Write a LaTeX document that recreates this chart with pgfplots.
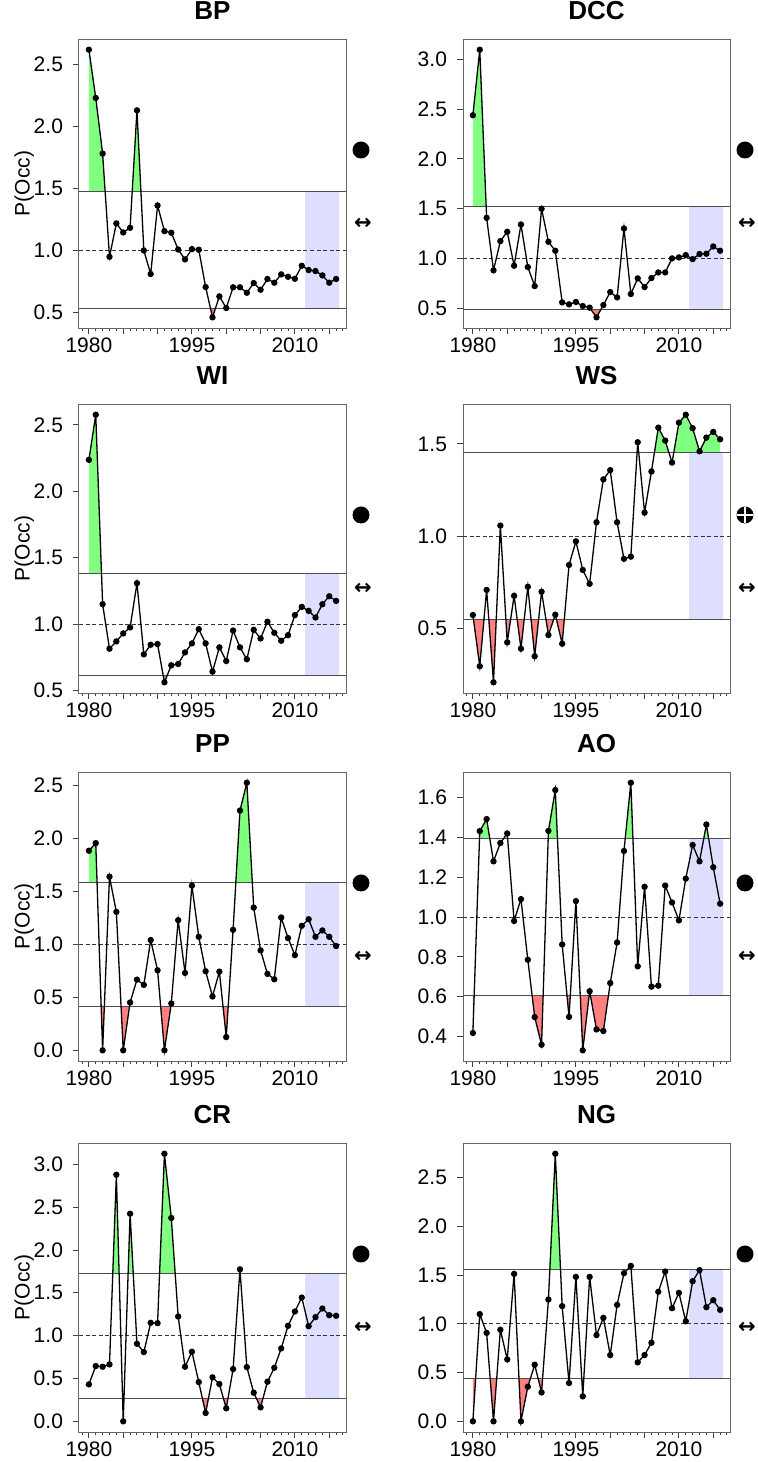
\documentclass[border=0pt]{standalone}
\usepackage{pgfplots}
\pgfplotsset{compat=1.18}
\usepgfplotslibrary{fillbetween}
\usepackage{pgfplotstable}
\usepackage{fontspec}
\setmainfont{Liberation Sans}
\newfontfamily\dejavu{DejaVu Sans}

\definecolor{gfill}{RGB}{128,255,128}
\definecolor{rfill}{RGB}{255,128,128}
\definecolor{bfill}{RGB}{222,222,255}

% P(Occ) per year, 1980-2016
\pgfplotstableread[row sep=\\]{
year val\\
1980 2.616\\ 1981 2.227\\ 1982 1.778\\ 1983 0.946\\ 1984 1.215\\ 1985 1.142\\ 1986 1.180\\ 1987 2.127\\
1988 0.997\\ 1989 0.807\\ 1990 1.360\\ 1991 1.153\\ 1992 1.140\\ 1993 1.005\\ 1994 0.925\\ 1995 1.008\\
1996 1.003\\ 1997 0.702\\ 1998 0.458\\ 1999 0.627\\ 2000 0.533\\ 2001 0.700\\ 2002 0.700\\ 2003 0.656\\
2004 0.734\\ 2005 0.680\\ 2006 0.767\\ 2007 0.737\\ 2008 0.804\\ 2009 0.785\\ 2010 0.769\\ 2011 0.874\\
2012 0.839\\ 2013 0.831\\ 2014 0.796\\ 2015 0.737\\ 2016 0.767\\
}\tBP
\pgfplotstableread[row sep=\\]{
year val\\
1980 2.439\\ 1981 3.098\\ 1982 1.408\\ 1983 0.880\\ 1984 1.174\\ 1985 1.268\\ 1986 0.926\\ 1987 1.341\\
1988 0.913\\ 1989 0.722\\ 1990 1.499\\ 1991 1.167\\ 1992 1.077\\ 1993 0.558\\ 1994 0.538\\ 1995 0.562\\
1996 0.521\\ 1997 0.505\\ 1998 0.408\\ 1999 0.531\\ 2000 0.662\\ 2001 0.608\\ 2002 1.301\\ 2003 0.642\\
2004 0.799\\ 2005 0.712\\ 2006 0.803\\ 2007 0.859\\ 2008 0.859\\ 2009 1.000\\ 2010 1.010\\ 2011 1.033\\
2012 0.993\\ 2013 1.044\\ 2014 1.047\\ 2015 1.120\\ 2016 1.077\\
}\tDCC
\pgfplotstableread[row sep=\\]{
year val\\
1980 2.237\\ 1981 2.577\\ 1982 1.150\\ 1983 0.815\\ 1984 0.870\\ 1985 0.930\\ 1986 0.975\\ 1987 1.308\\
1988 0.772\\ 1989 0.845\\ 1990 0.850\\ 1991 0.562\\ 1992 0.690\\ 1993 0.700\\ 1994 0.787\\ 1995 0.855\\
1996 0.962\\ 1997 0.855\\ 1998 0.642\\ 1999 0.825\\ 2000 0.722\\ 2001 0.952\\ 2002 0.825\\ 2003 0.735\\
2004 0.957\\ 2005 0.892\\ 2006 1.018\\ 2007 0.935\\ 2008 0.875\\ 2009 0.917\\ 2010 1.068\\ 2011 1.130\\
2012 1.100\\ 2013 1.050\\ 2014 1.150\\ 2015 1.210\\ 2016 1.175\\
}\tWI
\pgfplotstableread[row sep=\\]{
year val\\
1980 0.574\\ 1981 0.297\\ 1982 0.710\\ 1983 0.210\\ 1984 1.058\\ 1985 0.426\\ 1986 0.678\\ 1987 0.392\\
1988 0.727\\ 1989 0.351\\ 1990 0.700\\ 1991 0.466\\ 1992 0.576\\ 1993 0.419\\ 1994 0.845\\ 1995 0.973\\
1996 0.818\\ 1997 0.743\\ 1998 1.076\\ 1999 1.308\\ 2000 1.358\\ 2001 1.076\\ 2002 0.878\\ 2003 0.890\\
2004 1.509\\ 2005 1.128\\ 2006 1.351\\ 2007 1.588\\ 2008 1.518\\ 2009 1.399\\ 2010 1.615\\ 2011 1.658\\
2012 1.585\\ 2013 1.460\\ 2014 1.534\\ 2015 1.565\\ 2016 1.525\\
}\tWS
\pgfplotstableread[row sep=\\]{
year val\\
1980 1.883\\ 1981 1.955\\ 1982 0.000\\ 1983 1.638\\ 1984 1.306\\ 1985 0.000\\ 1986 0.451\\ 1987 0.667\\
1988 0.617\\ 1989 1.040\\ 1990 0.755\\ 1991 0.000\\ 1992 0.442\\ 1993 1.228\\ 1994 0.730\\ 1995 1.554\\
1996 1.071\\ 1997 0.746\\ 1998 0.508\\ 1999 0.742\\ 2000 0.125\\ 2001 1.137\\ 2002 2.262\\ 2003 2.525\\
2004 1.347\\ 2005 0.943\\ 2006 0.721\\ 2007 0.670\\ 2008 1.253\\ 2009 1.059\\ 2010 0.898\\ 2011 1.175\\
2012 1.237\\ 2013 1.071\\ 2014 1.131\\ 2015 1.071\\ 2016 0.984\\
}\tPP
\pgfplotstableread[row sep=\\]{
year val\\
1980 0.417\\ 1981 1.432\\ 1982 1.492\\ 1983 1.280\\ 1984 1.372\\ 1985 1.420\\ 1986 0.980\\ 1987 1.090\\
1988 0.785\\ 1989 0.497\\ 1990 0.358\\ 1991 1.433\\ 1992 1.638\\ 1993 0.862\\ 1994 0.498\\ 1995 1.080\\
1996 0.330\\ 1997 0.627\\ 1998 0.435\\ 1999 0.427\\ 2000 0.668\\ 2001 0.872\\ 2002 1.332\\ 2003 1.675\\
2004 0.752\\ 2005 1.152\\ 2006 0.650\\ 2007 0.655\\ 2008 1.158\\ 2009 1.073\\ 2010 0.983\\ 2011 1.193\\
2012 1.362\\ 2013 1.280\\ 2014 1.465\\ 2015 1.250\\ 2016 1.067\\
}\tAO
\pgfplotstableread[row sep=\\]{
year val\\
1980 0.431\\ 1981 0.645\\ 1982 0.637\\ 1983 0.664\\ 1984 2.879\\ 1985 0.000\\ 1986 2.424\\ 1987 0.905\\
1988 0.808\\ 1989 1.150\\ 1990 1.146\\ 1991 3.124\\ 1992 2.374\\ 1993 1.224\\ 1994 0.637\\ 1995 0.812\\
1996 0.458\\ 1997 0.097\\ 1998 0.513\\ 1999 0.435\\ 2000 0.152\\ 2001 0.610\\ 2002 1.775\\ 2003 0.633\\
2004 0.334\\ 2005 0.163\\ 2006 0.462\\ 2007 0.625\\ 2008 0.851\\ 2009 1.115\\ 2010 1.282\\ 2011 1.445\\
2012 1.111\\ 2013 1.216\\ 2014 1.317\\ 2015 1.239\\ 2016 1.232\\
}\tCR
\pgfplotstableread[row sep=\\]{
year val\\
1980 0.000\\ 1981 1.100\\ 1982 0.908\\ 1983 0.000\\ 1984 0.939\\ 1985 0.635\\ 1986 1.513\\ 1987 0.000\\
1988 0.355\\ 1989 0.581\\ 1990 0.297\\ 1991 1.250\\ 1992 2.746\\ 1993 1.182\\ 1994 0.393\\ 1995 1.482\\
1996 0.256\\ 1997 1.482\\ 1998 0.885\\ 1999 1.062\\ 2000 0.680\\ 2001 1.195\\ 2002 1.520\\ 2003 1.595\\
2004 0.605\\ 2005 0.680\\ 2006 0.806\\ 2007 1.329\\ 2008 1.537\\ 2009 1.161\\ 2010 1.318\\ 2011 1.027\\
2012 1.438\\ 2013 1.551\\ 2014 1.171\\ 2015 1.243\\ 2016 1.144\\
}\tNG

\pgfplotsset{
  panel/.style={
    scale only axis, width=133.5pt, height=144.5pt, anchor=north west,
    xmin=1978.56, xmax=2017.44, enlargelimits=false,
    clip=false,
    axis line style={black!60, line width=0.5pt},
    every tick/.style={black!75, line width=0.5pt},
    tick align=outside, xtick pos=left, ytick pos=left,
    major tick length=3pt, minor tick length=1.6pt,
    xtick={1980,1985,...,2015}, xticklabels={1980,,,1995,,,2010,},
    minor xtick={1979,...,2017},
    scaled ticks=false,
    /pgf/number format/assume math mode=true,
    yticklabel={\pgfmathprintnumber[fixed,fixed zerofill,precision=1]{\tick}},
    tick label style={font=\fontsize{10.5}{12}\selectfont},
    yticklabel style={xshift=-1.5pt},
    xticklabel style={yshift=1.5pt},
    title style={font=\fontsize{13}{15}\selectfont\bfseries, at={(0.5,1)}, anchor=base, yshift=4pt},
    ylabel style={font=\fontsize{10.5}{12}\selectfont, at={(axis description cs:-0.205,0.5)}, anchor=center},
  },
  % clipped overlay used only for the green / red areas
  ov/.style={scale only axis, width=133.5pt, xmin=1978.56, xmax=2017.44,
    enlargelimits=false, hide axis, clip=true},
  ser/.style={black, line width=0.65pt, mark=*, mark size=1.25pt, mark options={solid}},
  thr/.style={black!70, line width=0.5pt},
  dl/.style={black!80, line width=0.5pt, dash pattern=on 2pt off 1.3pt},
}

\newcommand\dotsym{\node[circle, fill=black, inner sep=0pt, minimum size=8.5pt, xshift=7.5pt] at (rel axis cs:1,0.616) {};}
\newcommand\plussym{\node[circle, fill=black, inner sep=0pt, minimum size=8.5pt, xshift=7.5pt,
  path picture={\draw[white, line width=1pt] (path picture bounding box.north) -- (path picture bounding box.south)
  (path picture bounding box.west) -- (path picture bounding box.east);}] at (rel axis cs:1,0.616) {};}
\newcommand\arrsym{\node[xshift=8.5pt, inner sep=0pt, font=\dejavu\bfseries\fontsize{10.5}{12}\selectfont] at (rel axis cs:1,0.362) {↔};}
\let\cursym\dotsym

% #1 x (pt), #2 top y (pt), #3 name, #4 upper, #5 lower, #6 axis options,
% #7 table, #8 ymin, #9 ymax
\newcommand\panel[9]{%
\pgfmathsetmacro\hup{144.5*(#9-#4)/(#9-#8)}%
\pgfmathsetmacro\hlo{144.5*(#5-#8)/(#9-#8)}%
\pgfmathsetmacro\ybot{#2-144.5}%
% area above the upper line
\begin{axis}[ov, anchor=north west, at={(#1pt,#2pt)}, height=\hup pt, ymin=#4, ymax=#9]
  \addplot[draw=none, name path=ga#3] table {#7};
  \addplot[draw=none, name path=gb#3] coordinates {(1980,-20) (2016,-20)};
  \addplot[fill=gfill, draw=none] fill between[of=ga#3 and gb#3];
\end{axis}
% area below the lower line
\begin{axis}[ov, anchor=south west, at={(#1pt,\ybot pt)}, height=\hlo pt, ymin=#8, ymax=#5]
  \addplot[draw=none, name path=ra#3] table {#7};
  \addplot[draw=none, name path=rb#3] coordinates {(1980,20) (2016,20)};
  \addplot[fill=rfill, draw=none] fill between[of=ra#3 and rb#3];
\end{axis}
\begin{axis}[panel, at={(#1pt,#2pt)}, title={#3}, ymin=#8, ymax=#9, #6]
  \addplot[draw=none, fill=bfill] coordinates {(2011.5,#5) (2016.45,#5) (2016.45,#4) (2011.5,#4) (2011.5,#5)};
  \addplot[thr] coordinates {(1978.56,#4) (2017.44,#4)};
  \addplot[thr] coordinates {(1978.56,#5) (2017.44,#5)};
  \addplot[dl] coordinates {(1978.56,1) (2017.44,1)};
  \addplot[ser] table {#7};
  \cursym
  \arrsym
\end{axis}}

\begin{document}
\begin{tikzpicture}
\panel{39.5}{-19.5}{BP}{1.472}{0.530}{ylabel={P(Occ)}, ytick={0.5,1,1.5,2,2.5}}{\tBP}{0.3717}{2.7023}
\panel{231.5}{-19.5}{DCC}{1.519}{0.485}{ytick={0.5,1,1.5,2,2.5,3}}{\tDCC}{0.3004}{3.2056}
\panel{39.5}{-202}{WI}{1.380}{0.612}{ylabel={P(Occ)}, ytick={0.5,1,1.5,2,2.5}}{\tWI}{0.4814}{2.6576}
\let\cursym\plussym
\panel{231.5}{-202}{WS}{1.455}{0.549}{ytick={0.5,1,1.5}}{\tWS}{0.1521}{1.7159}
\let\cursym\dotsym
\panel{39.5}{-386}{PP}{1.579}{0.417}{ylabel={P(Occ)}, ytick={0,0.5,1,1.5,2,2.5}}{\tPP}{-0.101}{2.626}
\panel{231.5}{-386}{AO}{1.393}{0.605}{ytick={0.4,0.6,0.8,1,1.2,1.4,1.6}}{\tAO}{0.2762}{1.7288}
\panel{39.5}{-571.5}{CR}{1.729}{0.264}{ylabel={P(Occ)}, ytick={0,0.5,1,1.5,2,2.5,3}}{\tCR}{-0.125}{3.249}
\panel{231.5}{-571.5}{NG}{1.557}{0.441}{ytick={0,0.5,1,1.5,2,2.5}}{\tNG}{-0.1098}{2.8558}
\pgfresetboundingbox
\path[use as bounding box] (0,0) rectangle (379pt,-731pt);
\end{tikzpicture}
\end{document}
